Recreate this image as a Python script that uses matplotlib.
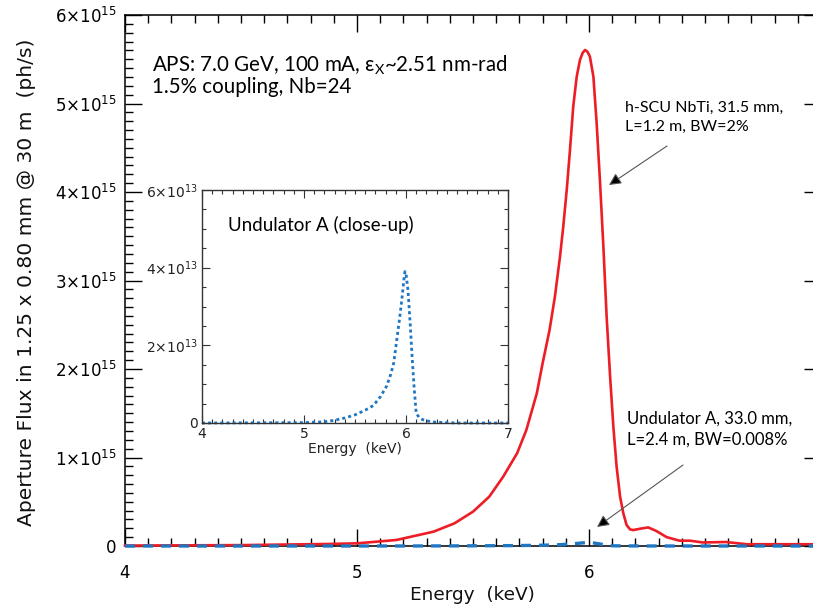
import matplotlib
matplotlib.use("Agg")
import matplotlib.pyplot as plt
from matplotlib.ticker import MultipleLocator, FuncFormatter
from matplotlib.patches import FancyArrowPatch

# h-SCU NbTi spectrum (flux in units of 1e15 ph/s)
energy_scu = [4.00, 4.50, 4.88, 5.00, 5.17, 5.33, 5.42, 5.50, 5.57, 5.63, 5.69,
              5.73, 5.775, 5.80, 5.83, 5.853, 5.875, 5.889, 5.904, 5.918, 5.932,
              5.947, 5.961, 5.973, 5.983, 5.993, 6.004, 6.019, 6.033, 6.047,
              6.062, 6.076, 6.091, 6.105, 6.119, 6.134, 6.148, 6.162, 6.177,
              6.19, 6.22, 6.255, 6.29, 6.335, 6.39, 6.435, 6.49, 6.59, 6.68,
              6.82, 7.00]
flux_scu = [0.005, 0.01, 0.023, 0.03, 0.068, 0.162, 0.256, 0.388, 0.557, 0.783,
            1.047, 1.311, 1.725, 2.064, 2.441, 2.817, 3.269, 3.608, 4.023, 4.475,
            4.964, 5.303, 5.492, 5.574, 5.605, 5.586, 5.529, 5.303, 4.776, 4.136,
            3.382, 2.591, 1.913, 1.348, 0.896, 0.557, 0.369, 0.237, 0.188,
            0.18, 0.195, 0.21, 0.17, 0.10, 0.06, 0.06, 0.04, 0.045, 0.02,
            0.02, 0.02]

# Undulator A spectrum (flux in units of 1e13 ph/s)
energy_und = [4.00, 5.00, 5.19, 5.30, 5.40, 5.50, 5.60, 5.68, 5.75, 5.81, 5.85,
              5.88, 5.91, 5.94, 5.96, 5.98, 5.99, 6.00, 6.02, 6.04, 6.06, 6.08,
              6.10, 6.13, 6.16, 6.20, 6.25, 6.30, 6.50, 7.00]
flux_und = [0.0, 0.01, 0.03, 0.07, 0.13, 0.21, 0.33, 0.45, 0.68, 0.95, 1.25,
            1.55, 2.15, 2.75, 3.2, 3.7, 3.9, 3.85, 3.4, 2.6, 1.7, 0.9,
            0.25, 0.14, 0.09, 0.06, 0.03, 0.02, 0.0, 0.0]

main_xticks = [4, 5, 6]
main_yticks = [0, 1, 2, 3, 4, 5, 6]
inset_xticks = [4, 5, 6, 7]
inset_yticks = [0, 2, 4, 6]

RED = "#ee1d25"
BLUE = "#1f77c4"
TXT_FONT = ["Lato", "DejaVu Sans"]

plt.rcParams["font.family"] = ["DejaVu Sans"]
plt.rcParams["mathtext.fontset"] = "dejavusans"

W, H = 813, 606
fig = plt.figure(figsize=(W / 100, H / 100), dpi=100)


def fx(px):
    return px / W


def fy(py):
    return 1 - py / H


def sci_fmt(exp):
    def f(v, pos):
        if abs(v) < 1e-9:
            return "0"
        return r"$%d{\times}10^{%d}$" % (round(v), exp)
    return FuncFormatter(f)


# ---- main axes ----
ax = fig.add_axes([fx(125), fy(546), (821 - 125) / W, (546 - 15) / H])
ax.plot(energy_scu, flux_scu, color=RED, lw=1.9, clip_on=False, zorder=3,
        solid_joinstyle="round")
ax.plot(energy_und, [v / 100 for v in flux_und], color=BLUE, lw=2.4,
        ls=(0, (3, 2.4)), clip_on=False, zorder=4)
ax.set_xlim(4, 7)
ax.set_ylim(0, 6)
ax.set_xticks(main_xticks)
ax.set_yticks(main_yticks)
ax.xaxis.set_minor_locator(MultipleLocator(0.1))
ax.yaxis.set_minor_locator(MultipleLocator(0.1))
ax.yaxis.set_major_formatter(sci_fmt(15))
ax.tick_params(which="both", direction="in", top=True, right=True,
               width=1.0, colors="black")
ax.tick_params(which="major", length=12, labelsize=12)
ax.tick_params(which="minor", length=6)
ax.tick_params(axis="x", which="major", pad=13)
ax.tick_params(axis="y", which="major", pad=6)
for s in ax.spines.values():
    s.set_linewidth(1.1)

fig.text(fx(27), fy(282), "Aperture Flux in 1.25 x 0.80 mm @ 30 m  (ph/s)",
         rotation=90, ha="center", va="center", fontsize=14.6, color="#111111")
fig.text(fx(472), fy(600), "Energy  (keV)", ha="center", va="baseline",
         fontsize=13.3, color="#111111")

fig.text(fx(152), fy(71), r"APS: 7.0 GeV, 100 mA, ε$_\mathregular{X}$~2.51 nm-rad",
         ha="left", va="baseline", fontsize=14.8, family=TXT_FONT)
fig.text(fx(152), fy(93.3), "1.5% coupling, Nb=24",
         ha="left", va="baseline", fontsize=14.8, family=TXT_FONT)

fig.text(fx(625), fy(111.7), "h-SCU NbTi, 31.5 mm,", ha="left",
         va="baseline", fontsize=11.5, family=TXT_FONT)
fig.text(fx(625), fy(130.7), "L=1.2 m, BW=2%", ha="left",
         va="baseline", fontsize=11.5, family=TXT_FONT)
fig.text(fx(627), fy(424), "Undulator A, 33.0 mm,", ha="left",
         va="baseline", fontsize=12, family=TXT_FONT)
fig.text(fx(627), fy(444.3), "L=2.4 m, BW=0.008%", ha="left",
         va="baseline", fontsize=12, family=TXT_FONT)


def pointer(x0, y0, x1, y1):
    arr = FancyArrowPatch((fx(x0), fy(y0)), (fx(x1), fy(y1)),
                          transform=fig.transFigure, arrowstyle="-|>",
                          mutation_scale=18, lw=0.8, edgecolor="#555555",
                          facecolor="black", shrinkA=0, shrinkB=0)
    fig.patches.append(arr)


pointer(667, 146, 609, 185)
pointer(683, 465, 597, 527)

# ---- inset axes ----
axi = fig.add_axes([fx(202), fy(423), (508 - 202) / W, (423 - 190) / H])
axi.plot(energy_und, flux_und, color=BLUE, lw=2.0, ls=(0, (1.1, 1.1)),
         clip_on=False)
axi.set_xlim(4, 7)
axi.set_ylim(0, 6)
axi.set_xticks(inset_xticks)
axi.set_yticks(inset_yticks)
axi.xaxis.set_minor_locator(MultipleLocator(0.1))
axi.yaxis.set_minor_locator(MultipleLocator(0.5))
axi.yaxis.set_major_formatter(sci_fmt(13))
axi.tick_params(which="both", direction="in", top=True, right=True,
                width=0.8, colors="#333333", labelcolor="#222222")
axi.tick_params(which="major", length=6, labelsize=10, pad=3)
axi.tick_params(which="minor", length=3)
for s in axi.spines.values():
    s.set_linewidth(1.0)
    s.set_color("#333333")
fig.text(fx(355), fy(453), "Energy  (keV)", ha="center", va="baseline",
         fontsize=10, color="#222222")
fig.text(fx(228), fy(231), "Undulator A (close-up)", ha="left",
         va="baseline", fontsize=13.5, family=TXT_FONT)

fig.savefig("out.png", dpi=100)
